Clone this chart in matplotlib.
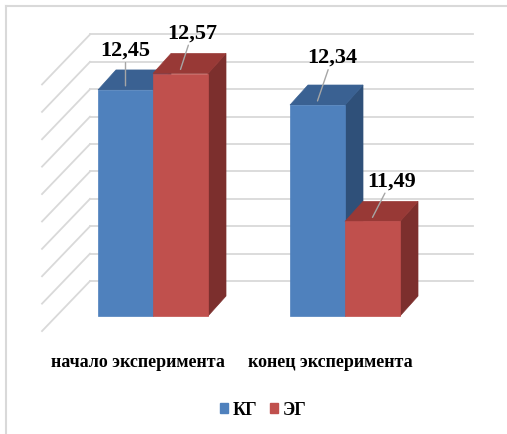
import numpy as np
import matplotlib
matplotlib.use('Agg')
import matplotlib.pyplot as plt
from matplotlib.patches import Polygon, Patch
from matplotlib.lines import Line2D
import matplotlib.transforms as mtransforms

plt.rcParams['font.family'] = ['Liberation Serif', 'DejaVu Serif']
plt.rcParams['font.weight'] = 'bold'

categories = ['начало эксперимента', 'конец эксперимента']
groups = ['КГ', 'ЭГ']
kg = [12.45, 12.34]
eg = [12.57, 11.49]
kg_labels = ['12,45', '12,34']
eg_labels = ['12,57', '11,49']

# value axis of the 3d chart (no tick labels shown)
y_floor = 10.8
y_step = 0.2
n_grid = 10

front = {'КГ': '#4f81bd', 'ЭГ': '#c0504d'}
topc = {'КГ': '#3a6192', 'ЭГ': '#983936'}
sidec = {'КГ': '#2f5079', 'ЭГ': '#7c2f2d'}

W, H = 507, 435
fig = plt.figure(figsize=(W / 100, H / 100), dpi=100)
ax = fig.add_axes([0, 0, 1, 1])
# 192 px per category, 137 px per value unit
ax.set_xlim(-153 / 192, (W - 153) / 192)
ax.set_ylim(y_floor - (H - 317) / 137, y_floor + 317 / 137)
ax.axis('off')

w = 55 / 192      # bar width
dx = 18 / 192     # depth offset
dy = 20 / 137
back_off = 0.255  # back wall is drawn a bit higher
wall_x0, wall_x1, wall_x2 = -0.578, -0.328, 1.667

grid = y_floor + y_step * np.arange(n_grid)
for g in grid:
    yb = g + back_off
    ax.plot([wall_x1, wall_x2], [yb, yb], color='#d9d9d9', lw=1.3, zorder=1)
    ax.plot([wall_x0, wall_x1], [yb - 50 / 137, yb], color='#d9d9d9', lw=1.3, zorder=1)


def bar3d(x0, v, name, z):
    x1 = x0 + w
    side = [(x1, y_floor), (x1, v), (x1 + dx, v + dy), (x1 + dx, y_floor + dy)]
    top = [(x0, v), (x1, v), (x1 + dx, v + dy), (x0 + dx, v + dy)]
    ax.add_patch(Polygon(side, closed=True, fc=sidec[name], ec=sidec[name], lw=0.5, zorder=z))
    ax.add_patch(Polygon(top, closed=True, fc=topc[name], ec=topc[name], lw=0.5, zorder=z))
    ax.bar(x0, v - y_floor, width=w, bottom=y_floor, align='edge',
           color=front[name], edgecolor=front[name], lw=0.5, zorder=z + 1)


# label offsets in pixels (right, up) from the bar top
kg_off = [(0, 36), (15, 44)]
eg_off = [(12, 37), (19, 37)]

z = 2
for i in range(len(categories)):
    for name, vals, labs, offs, shift in [('КГ', kg, kg_labels, kg_off, -w),
                                         ('ЭГ', eg, eg_labels, eg_off, 0)]:
        x0 = i + shift
        bar3d(x0, vals[i], name, z)
        z += 3
        ax.annotate(labs[i], xy=(x0 + w / 2, vals[i] + 0.03),
                    xytext=(offs[i][0] * 0.72, offs[i][1] * 0.72), textcoords='offset points',
                    ha='center', va='center', size=16, zorder=30,
                    arrowprops=dict(arrowstyle='-', color='#a6a6a6', lw=1, shrinkA=0, shrinkB=0))

trans = mtransforms.blended_transform_factory(ax.transData, ax.transAxes)
for i, c in enumerate(categories):
    ax.text(i - 0.078, 1 - 363 / H, c, transform=trans, ha='center', va='center', size=13)

handles = [Patch(color=front[g]) for g in groups]
fig.legend(handles, groups, loc='center', bbox_to_anchor=(263 / W, 1 - 411 / H), ncol=2,
           frameon=False, handlelength=0.45, handleheight=0.45, handletextpad=0.25,
           columnspacing=0.7, prop=dict(size=13))

# outer chart frame
fig.add_artist(Line2D([6 / W, 6 / W], [0, 1 - 7 / H], color='#d9d9d9', lw=1.5))
fig.add_artist(Line2D([6 / W, 1], [1 - 7 / H, 1 - 7 / H], color='#d9d9d9', lw=1.5))

fig.savefig('out.png', dpi=100)
